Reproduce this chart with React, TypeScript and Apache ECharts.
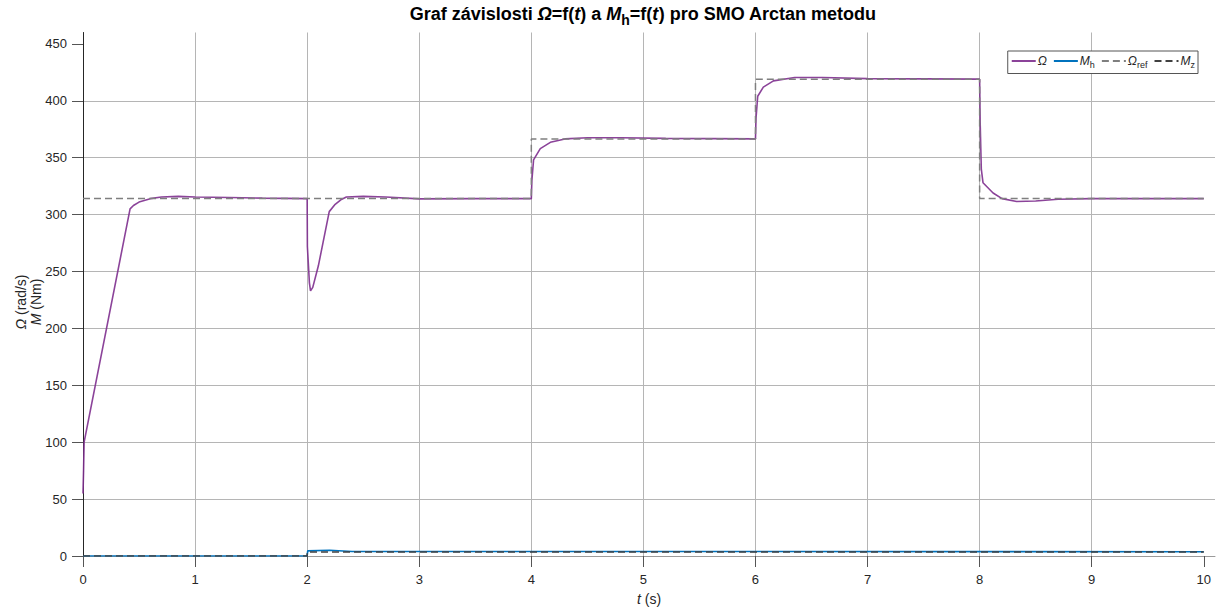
import React, { useEffect, useRef } from "react";
import * as echarts from "echarts";

// Ω (rad/s)
const omegaT = [0, 0.005, 0.01, 0.42, 0.45, 0.5, 0.6, 0.7, 0.85, 1.0, 1.3, 1.6, 2.0,
  2.002, 2.02, 2.03, 2.05, 2.1, 2.197, 2.25, 2.3, 2.35, 2.5, 2.7, 3.0, 3.5, 4.0,
  4.005, 4.02, 4.08, 4.17, 4.3, 4.5, 4.8, 5.2, 6.0,
  6.005, 6.02, 6.07, 6.16, 6.35, 6.6, 7.0, 8.0,
  8.005, 8.015, 8.03, 8.12, 8.2, 8.33, 8.5, 8.7, 9.0, 10.0];
const omegaV = [55, 75, 100, 305, 308, 311, 314, 315.5, 316, 315.5, 315, 314.5, 314,
  272, 240, 233, 236, 255, 302.6, 309, 313, 315.5, 316, 315.5, 313.8, 314, 314,
  330, 348, 358, 363.5, 366.5, 367.5, 367.5, 367, 366.5,
  385, 404, 412, 417.5, 420.5, 420.5, 419.5, 419,
  380, 340, 328, 319, 314, 311.5, 312, 313.5, 314, 314];

// Ω_ref (rad/s)
const refT = [0, 4, 4, 6, 6, 8, 8, 10];
const refV = [314.16, 314.16, 366.52, 366.52, 418.88, 418.88, 314.16, 314.16];

// M_h (Nm)
const mhT = [0, 2.0, 2.005, 2.2, 2.4, 10];
const mhV = [0, 0, 4.5, 5, 4, 3.8];

// M_z (Nm)
const mzT = [0, 2.0, 2.0, 10];
const mzV = [0, 0, 3.5, 3.5];

const xTicks = [0, 1, 2, 3, 4, 5, 6, 7, 8, 9, 10];
const yTicks = [0, 50, 100, 150, 200, 250, 300, 350, 400, 450];

const zip = (a: number[], b: number[]) => a.map((t, i) => [t, b[i]]);

const FONT = "'Liberation Sans', Arial, Helvetica, sans-serif";

export default function App() {
  const ref = useRef<HTMLDivElement>(null);
  useEffect(() => {
    if (!ref.current) return;
    const chart = echarts.init(ref.current, undefined, { renderer: "svg" });
    const legendRich = {
      i: { fontStyle: "italic", fontSize: 12, fontFamily: FONT, color: "#262626" },
      s: { fontSize: 9, fontFamily: FONT, color: "#262626", padding: [8, 0, 0, 0] },
    };
    const legendNames: Record<string, string> = {
      "Ω": "{i|Ω}",
      "M_h": "{i|M}{s|h}",
      "Ω_ref": "{i|Ω}{s|ref}",
      "M_z": "{i|M}{s|z}",
    };
    chart.setOption({
      animation: false,
      backgroundColor: "#ffffff",
      title: {
        text: "{b|Graf závislosti }{bi|Ω}{b|=f(}{bi|t}{b|) a }{bi|M}{bs|h}{b|=f(}{bi|t}{b|) pro SMO Arctan metodu}",
        left: 643,
        top: 0,
        textAlign: "center",
        padding: 0,
        textStyle: {
          fontSize: 18,
          fontWeight: "bold",
          fontFamily: FONT,
          color: "#000",
          rich: {
            b: { fontSize: 18, fontWeight: "bold", fontFamily: FONT, color: "#000" },
            bi: { fontSize: 18, fontWeight: "bold", fontStyle: "italic", fontFamily: FONT, color: "#000" },
            bs: { fontSize: 14, fontWeight: "bold", fontFamily: FONT, color: "#000", padding: [13, 0, 0, 0] },
          },
        },
      },
      legend: {
        right: 18,
        top: 51,
        orient: "horizontal",
        itemWidth: 24,
        itemHeight: 10,
        itemGap: 6,
        padding: [4, 3, 4, 3],
        borderColor: "#555",
        borderWidth: 1,
        borderRadius: 0,
        backgroundColor: "#fff",
        itemStyle: { opacity: 0 },
        data: ["Ω", "M_h", "Ω_ref", "M_z"],
        formatter: (name: string) => legendNames[name] || name,
        textStyle: { fontSize: 12, fontFamily: FONT, color: "#262626", padding: [0, 0, 0, -3], rich: legendRich },
      },
      grid: { left: 83, right: 1, top: 32.5, bottom: 50, containLabel: false },
      xAxis: {
        type: "value",
        min: 0,
        max: 10.1,
        interval: 1,
        name: "{i|t} (s)",
        nameLocation: "middle",
        nameGap: 36,
        nameTextStyle: {
          fontSize: 14, fontFamily: FONT, color: "#262626",
          rich: { i: { fontStyle: "italic", fontSize: 14, fontFamily: FONT, color: "#262626" } },
        },
        axisLine: { show: true, onZero: false, lineStyle: { color: "#9a9a9a", width: 1 } },
        axisTick: { show: true, inside: false, length: 11, customValues: xTicks, lineStyle: { color: "#555" } },
        axisLabel: { margin: 17, fontSize: 13, fontFamily: FONT, color: "#262626", customValues: xTicks },
        splitLine: { show: true, showMaxLine: false, lineStyle: { color: "#b5b5b5", width: 1 } },
      },
      yAxis: {
        type: "value",
        min: 0,
        max: 460,
        interval: 50,
        axisLine: { show: true, onZero: false, lineStyle: { color: "#262626", width: 1 } },
        axisTick: { show: true, inside: false, length: 11, customValues: yTicks, lineStyle: { color: "#555" } },
        axisLabel: { margin: 16, fontSize: 13, fontFamily: FONT, color: "#262626", customValues: yTicks },
        splitLine: { show: true, showMaxLine: false, lineStyle: { color: "#b5b5b5", width: 1 } },
      },
      graphic: [
        {
          type: "text", x: 21, y: 302, rotation: Math.PI / 2,
          style: {
            text: "{i|Ω} (rad/s)", align: "center", verticalAlign: "middle",
            fontSize: 14, fontFamily: FONT, fill: "#262626",
            rich: { i: { fontStyle: "italic", fontSize: 14, fontFamily: FONT, fill: "#262626" } },
          },
        },
        {
          type: "text", x: 36, y: 302, rotation: Math.PI / 2,
          style: {
            text: "{i|M} (Nm)", align: "center", verticalAlign: "middle",
            fontSize: 14, fontFamily: FONT, fill: "#262626",
            rich: { i: { fontStyle: "italic", fontSize: 14, fontFamily: FONT, fill: "#262626" } },
          },
        },
      ],
      series: [
        {
          name: "Ω", type: "line", data: zip(omegaT, omegaV), showSymbol: false, symbol: "none",
          lineStyle: { color: "#7E2F8E", width: 1.6, opacity: 0.9 }, itemStyle: { color: "#7E2F8E" }, z: 3,
        },
        {
          name: "M_h", type: "line", data: zip(mhT, mhV), showSymbol: false, symbol: "none",
          lineStyle: { color: "#0072BD", width: 1.6 }, itemStyle: { color: "#0072BD" }, z: 2,
        },
        {
          name: "Ω_ref", type: "line", data: zip(refT, refV), showSymbol: false, symbol: "none",
          lineStyle: { color: "#7f7f7f", width: 1.5, type: [7, 4] }, itemStyle: { color: "#7f7f7f" }, z: 4,
        },
        {
          name: "M_z", type: "line", data: zip(mzT, mzV), showSymbol: false, symbol: "none",
          lineStyle: { color: "#404040", width: 1.5, type: [7, 4] }, itemStyle: { color: "#404040" }, z: 4,
        },
      ],
    });
    return () => chart.dispose();
  }, []);
  return <div ref={ref} style={{ width: 1216, height: 611, position: "absolute", left: 0, top: 0 }} />;
}
